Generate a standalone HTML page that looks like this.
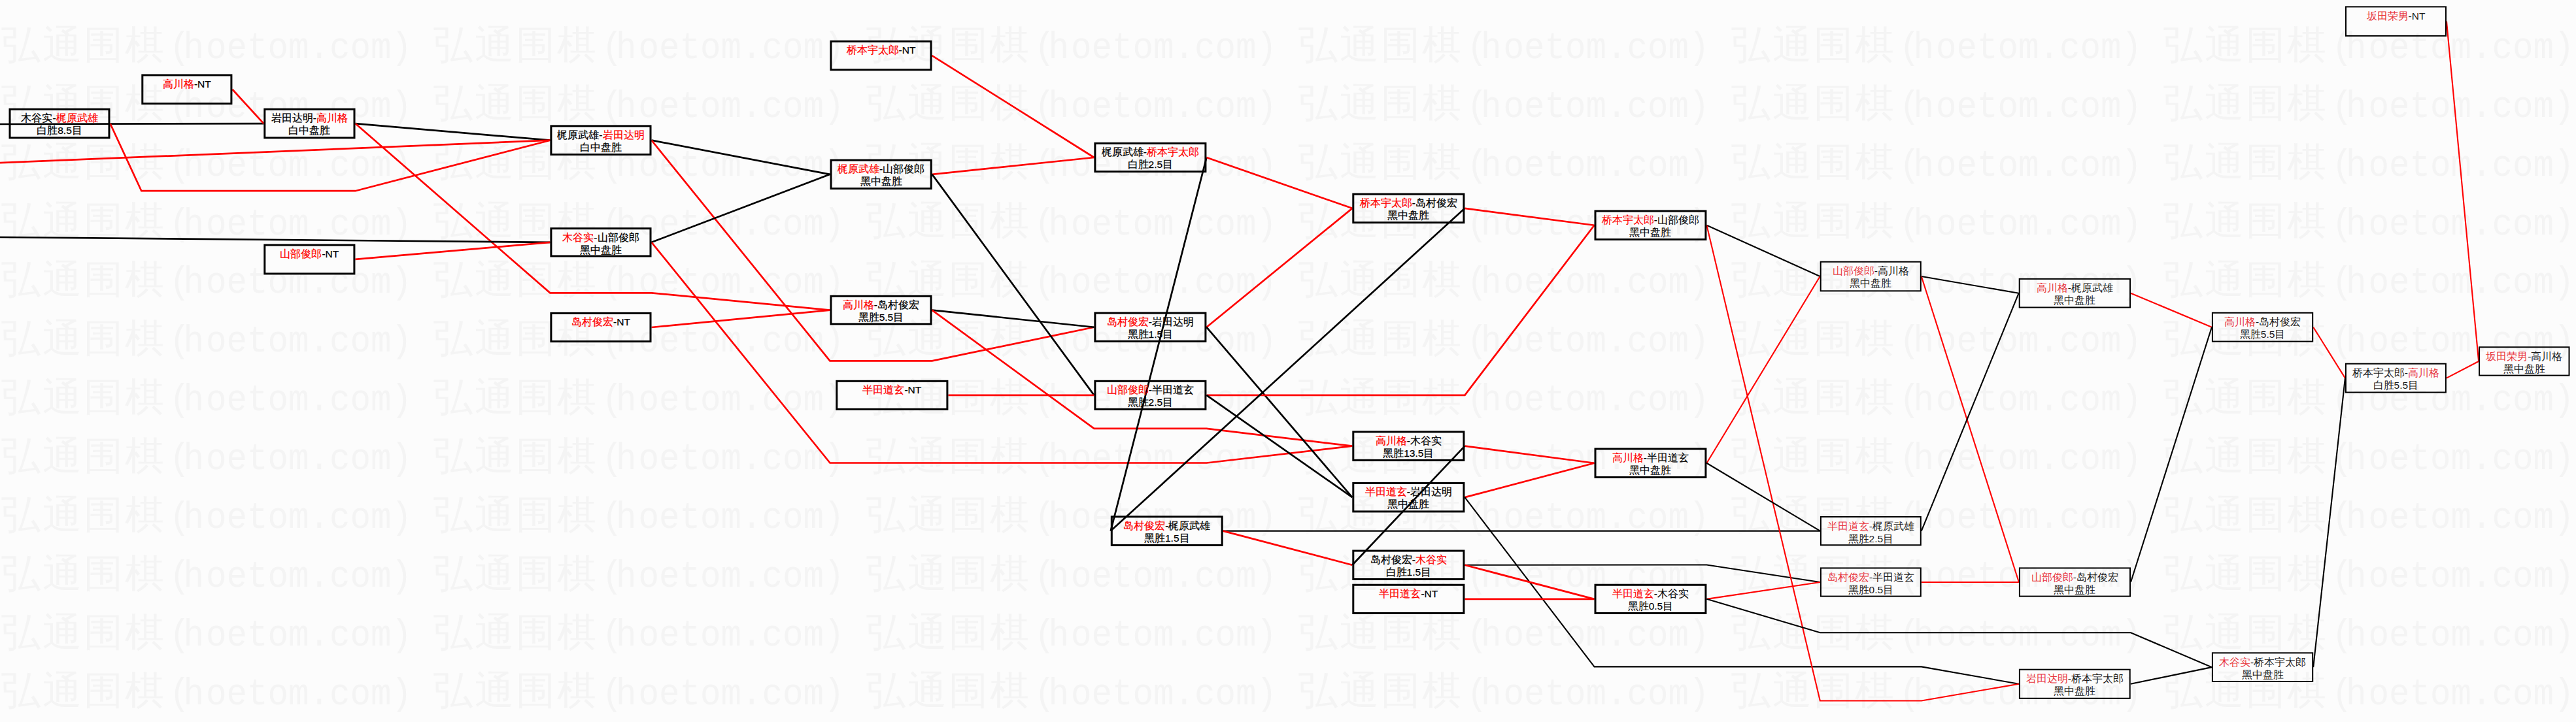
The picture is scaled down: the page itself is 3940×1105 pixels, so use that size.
<!DOCTYPE html><html><head><meta charset="utf-8"><style>html,body{margin:0;padding:0;background:#fcfcfc;overflow:hidden}svg{display:block}</style></head><body>
<svg width="3940" height="1105" viewBox="0 0 3940 1105">
<rect width="3940" height="1105" fill="#fcfcfc"/>
<defs><g id="wm">
<text x="31.5 94.5 157.5 220.5" y="0" font-size="60" text-anchor="middle" font-family="Liberation Sans, sans-serif">弘通围棋</text>
<text transform="scale(0.9210526315789475,1)" x="298.3 321.64 359.1 393.3 427.5 461.7 495.9 530.1 564.3 598.5 632.7 666.9" y="0.3" font-size="57" text-anchor="middle" font-family="Liberation Mono, monospace">(hoetom.com)</text>
</g></defs>
<g fill="#f4f4f4">
<use href="#wm" x="0" y="88.5"/>
<use href="#wm" x="661.5" y="88.5"/>
<use href="#wm" x="1323" y="88.5"/>
<use href="#wm" x="1984.5" y="88.5"/>
<use href="#wm" x="2646" y="88.5"/>
<use href="#wm" x="3307.5" y="88.5"/>
<use href="#wm" x="0" y="178.4"/>
<use href="#wm" x="661.5" y="178.4"/>
<use href="#wm" x="1323" y="178.4"/>
<use href="#wm" x="1984.5" y="178.4"/>
<use href="#wm" x="2646" y="178.4"/>
<use href="#wm" x="3307.5" y="178.4"/>
<use href="#wm" x="0" y="268.3"/>
<use href="#wm" x="661.5" y="268.3"/>
<use href="#wm" x="1323" y="268.3"/>
<use href="#wm" x="1984.5" y="268.3"/>
<use href="#wm" x="2646" y="268.3"/>
<use href="#wm" x="3307.5" y="268.3"/>
<use href="#wm" x="0" y="358.2"/>
<use href="#wm" x="661.5" y="358.2"/>
<use href="#wm" x="1323" y="358.2"/>
<use href="#wm" x="1984.5" y="358.2"/>
<use href="#wm" x="2646" y="358.2"/>
<use href="#wm" x="3307.5" y="358.2"/>
<use href="#wm" x="0" y="448.1"/>
<use href="#wm" x="661.5" y="448.1"/>
<use href="#wm" x="1323" y="448.1"/>
<use href="#wm" x="1984.5" y="448.1"/>
<use href="#wm" x="2646" y="448.1"/>
<use href="#wm" x="3307.5" y="448.1"/>
<use href="#wm" x="0" y="538"/>
<use href="#wm" x="661.5" y="538"/>
<use href="#wm" x="1323" y="538"/>
<use href="#wm" x="1984.5" y="538"/>
<use href="#wm" x="2646" y="538"/>
<use href="#wm" x="3307.5" y="538"/>
<use href="#wm" x="0" y="627.9"/>
<use href="#wm" x="661.5" y="627.9"/>
<use href="#wm" x="1323" y="627.9"/>
<use href="#wm" x="1984.5" y="627.9"/>
<use href="#wm" x="2646" y="627.9"/>
<use href="#wm" x="3307.5" y="627.9"/>
<use href="#wm" x="0" y="717.8"/>
<use href="#wm" x="661.5" y="717.8"/>
<use href="#wm" x="1323" y="717.8"/>
<use href="#wm" x="1984.5" y="717.8"/>
<use href="#wm" x="2646" y="717.8"/>
<use href="#wm" x="3307.5" y="717.8"/>
<use href="#wm" x="0" y="807.7"/>
<use href="#wm" x="661.5" y="807.7"/>
<use href="#wm" x="1323" y="807.7"/>
<use href="#wm" x="1984.5" y="807.7"/>
<use href="#wm" x="2646" y="807.7"/>
<use href="#wm" x="3307.5" y="807.7"/>
<use href="#wm" x="0" y="897.6"/>
<use href="#wm" x="661.5" y="897.6"/>
<use href="#wm" x="1323" y="897.6"/>
<use href="#wm" x="1984.5" y="897.6"/>
<use href="#wm" x="2646" y="897.6"/>
<use href="#wm" x="3307.5" y="897.6"/>
<use href="#wm" x="0" y="987.5"/>
<use href="#wm" x="661.5" y="987.5"/>
<use href="#wm" x="1323" y="987.5"/>
<use href="#wm" x="1984.5" y="987.5"/>
<use href="#wm" x="2646" y="987.5"/>
<use href="#wm" x="3307.5" y="987.5"/>
<use href="#wm" x="0" y="1077.4"/>
<use href="#wm" x="661.5" y="1077.4"/>
<use href="#wm" x="1323" y="1077.4"/>
<use href="#wm" x="1984.5" y="1077.4"/>
<use href="#wm" x="2646" y="1077.4"/>
<use href="#wm" x="3307.5" y="1077.4"/>
</g>
<polyline points="0,190 403.3,189.05" fill="none" stroke="#000000" stroke-width="2.7" stroke-linejoin="miter"/>
<polyline points="355.4,136.75 403.3,189.05" fill="none" stroke="#ff0000" stroke-width="2.7" stroke-linejoin="miter"/>
<polyline points="543.5,189.05 841.4,214.7" fill="none" stroke="#000000" stroke-width="2.7" stroke-linejoin="miter"/>
<polyline points="168.5,189.05 216.3,292.2 543.5,292.2 841.4,214.7" fill="none" stroke="#ff0000" stroke-width="2.7" stroke-linejoin="miter"/>
<polyline points="0,249.2 841.4,214.7" fill="none" stroke="#ff0000" stroke-width="2.7" stroke-linejoin="miter"/>
<polyline points="543.5,189.05 841.4,448.3 996.5,448.3 1269.4,474.6" fill="none" stroke="#ff0000" stroke-width="2.7" stroke-linejoin="miter"/>
<polyline points="0,363 841.4,370.85" fill="none" stroke="#000000" stroke-width="2.7" stroke-linejoin="miter"/>
<polyline points="543.4,396.95 841.4,370.85" fill="none" stroke="#ff0000" stroke-width="2.7" stroke-linejoin="miter"/>
<polyline points="996.5,214.7 1269.5,266.85" fill="none" stroke="#000000" stroke-width="2.7" stroke-linejoin="miter"/>
<polyline points="996.5,214.7 1269.4,552.3 1425.5,552.3 1673.4,500.75" fill="none" stroke="#ff0000" stroke-width="2.7" stroke-linejoin="miter"/>
<polyline points="996.5,370.85 1269.5,266.85" fill="none" stroke="#000000" stroke-width="2.7" stroke-linejoin="miter"/>
<polyline points="996.5,370.85 1269.5,708.5 1845.4,708.5 2068.3,682.65" fill="none" stroke="#ff0000" stroke-width="2.7" stroke-linejoin="miter"/>
<polyline points="996.5,501 1269.4,474.6" fill="none" stroke="#ff0000" stroke-width="2.7" stroke-linejoin="miter"/>
<polyline points="1425.5,85.05 1673.4,241" fill="none" stroke="#ff0000" stroke-width="2.7" stroke-linejoin="miter"/>
<polyline points="1425.7,266.85 1673.4,241" fill="none" stroke="#ff0000" stroke-width="2.7" stroke-linejoin="miter"/>
<polyline points="1425.7,266.85 1673.4,604.85" fill="none" stroke="#000000" stroke-width="2.7" stroke-linejoin="miter"/>
<polyline points="1425.5,474.6 1673.4,500.75" fill="none" stroke="#000000" stroke-width="2.7" stroke-linejoin="miter"/>
<polyline points="1425.5,474.6 1673.4,655.8 1845.4,655.8 2068.3,682.65" fill="none" stroke="#ff0000" stroke-width="2.7" stroke-linejoin="miter"/>
<polyline points="1450.4,604.85 1673.4,604.85" fill="none" stroke="#ff0000" stroke-width="2.7" stroke-linejoin="miter"/>
<polyline points="1845.4,241 1698.8,812.6" fill="none" stroke="#000000" stroke-width="2.7" stroke-linejoin="miter"/>
<polyline points="1845.4,241 2068.3,318.85" fill="none" stroke="#ff0000" stroke-width="2.7" stroke-linejoin="miter"/>
<polyline points="1845.4,500.75 2068.3,318.85" fill="none" stroke="#ff0000" stroke-width="2.7" stroke-linejoin="miter"/>
<polyline points="1845.4,500.75 2068.3,761.15" fill="none" stroke="#000000" stroke-width="2.7" stroke-linejoin="miter"/>
<polyline points="1845.4,604.85 2240.4,604.8 2438.5,344.75" fill="none" stroke="#ff0000" stroke-width="2.7" stroke-linejoin="miter"/>
<polyline points="1845.4,604.85 2068.3,761.15" fill="none" stroke="#000000" stroke-width="2.7" stroke-linejoin="miter"/>
<polyline points="2240.4,318.85 1698.8,812.6" fill="none" stroke="#000000" stroke-width="2.7" stroke-linejoin="miter"/>
<polyline points="2240.4,318.85 2438.5,344.75" fill="none" stroke="#ff0000" stroke-width="2.7" stroke-linejoin="miter"/>
<polyline points="1870.7,812.6 2783.9,812.6" fill="none" stroke="#000000" stroke-width="2.1" stroke-linejoin="miter"/>
<polyline points="1870.7,812.6 2068.3,864.75" fill="none" stroke="#ff0000" stroke-width="2.7" stroke-linejoin="miter"/>
<polyline points="2240.4,682.65 2438.5,708.75" fill="none" stroke="#ff0000" stroke-width="2.7" stroke-linejoin="miter"/>
<polyline points="2240.4,682.65 2068.3,864.75" fill="none" stroke="#000000" stroke-width="2.7" stroke-linejoin="miter"/>
<polyline points="2240.4,761.15 2438.5,708.75" fill="none" stroke="#ff0000" stroke-width="2.7" stroke-linejoin="miter"/>
<polyline points="2240.4,761.15 2438.5,1020.4 2938.8,1020.4 3087.9,1046.75" fill="none" stroke="#000000" stroke-width="2.1" stroke-linejoin="miter"/>
<polyline points="2240.4,864.75 2610.4,864.5 2783.9,891" fill="none" stroke="#000000" stroke-width="2.1" stroke-linejoin="miter"/>
<polyline points="2240.4,864.75 2438.5,916.85" fill="none" stroke="#ff0000" stroke-width="2.7" stroke-linejoin="miter"/>
<polyline points="2240.4,916.85 2438.5,916.85" fill="none" stroke="#ff0000" stroke-width="2.7" stroke-linejoin="miter"/>
<polyline points="2610.4,344.75 2783.7,423" fill="none" stroke="#000000" stroke-width="2.1" stroke-linejoin="miter"/>
<polyline points="2610.4,344.75 2783.8,1072.5 2938.8,1072.5 3087.9,1046.75" fill="none" stroke="#ff0000" stroke-width="2.1" stroke-linejoin="miter"/>
<polyline points="2610.4,708.75 2783.7,423" fill="none" stroke="#ff0000" stroke-width="2.1" stroke-linejoin="miter"/>
<polyline points="2610.4,708.75 2783.9,812.6" fill="none" stroke="#000000" stroke-width="2.1" stroke-linejoin="miter"/>
<polyline points="2610.4,916.85 2783.9,891" fill="none" stroke="#ff0000" stroke-width="2.1" stroke-linejoin="miter"/>
<polyline points="2610.4,916.85 2783.8,968.3 3259,968.3 3382.9,1021.15" fill="none" stroke="#000000" stroke-width="2.1" stroke-linejoin="miter"/>
<polyline points="2938.8,423 3087.7,448.7" fill="none" stroke="#000000" stroke-width="2.1" stroke-linejoin="miter"/>
<polyline points="2938.8,423 3087.9,891" fill="none" stroke="#ff0000" stroke-width="2.1" stroke-linejoin="miter"/>
<polyline points="2938.8,812.6 3087.7,448.7" fill="none" stroke="#000000" stroke-width="2.1" stroke-linejoin="miter"/>
<polyline points="2938.8,891 3087.9,891" fill="none" stroke="#ff0000" stroke-width="2.1" stroke-linejoin="miter"/>
<polyline points="3259,448.7 3382.9,500.7" fill="none" stroke="#ff0000" stroke-width="2.1" stroke-linejoin="miter"/>
<polyline points="3259,891 3382.9,500.7" fill="none" stroke="#000000" stroke-width="2.1" stroke-linejoin="miter"/>
<polyline points="3258.7,1046.75 3382.9,1021.15" fill="none" stroke="#000000" stroke-width="2.1" stroke-linejoin="miter"/>
<polyline points="3538.2,500.7 3586.9,578.6" fill="none" stroke="#ff0000" stroke-width="2.1" stroke-linejoin="miter"/>
<polyline points="3538.2,1021.15 3586.9,578.6" fill="none" stroke="#000000" stroke-width="2.1" stroke-linejoin="miter"/>
<polyline points="3741.9,578.6 3791.1,552.95" fill="none" stroke="#ff0000" stroke-width="2.1" stroke-linejoin="miter"/>
<polyline points="3742,32.65 3791.1,552.95" fill="none" stroke="#ff0000" stroke-width="2.1" stroke-linejoin="miter"/>
<rect x="15" y="167.2" width="152" height="43.7" fill="none" stroke="#000" stroke-width="3"/>
<text x="91" y="186.2" text-anchor="middle" font-size="15.5" font-weight="normal" font-family="Liberation Sans, sans-serif" fill="#000" stroke="#000" stroke-width="0.25">木谷实-<tspan fill="#ff0000" stroke="#ff0000">梶原武雄</tspan></text>
<text x="91" y="205.2" text-anchor="middle" font-size="15.5" font-weight="normal" font-family="Liberation Sans, sans-serif" fill="#000" stroke="#000" stroke-width="0.25">白胜8.5目</text>
<rect x="217.8" y="115" width="136.1" height="43.5" fill="none" stroke="#000" stroke-width="3"/>
<text x="285.85" y="134" text-anchor="middle" font-size="15.5" font-weight="normal" font-family="Liberation Sans, sans-serif" fill="#000" stroke="#000" stroke-width="0.25"><tspan fill="#ff0000" stroke="#ff0000">高川格</tspan><tspan>-NT</tspan></text>
<rect x="404.8" y="167.2" width="137.2" height="43.7" fill="none" stroke="#000" stroke-width="3"/>
<text x="473.4" y="186.2" text-anchor="middle" font-size="15.5" font-weight="normal" font-family="Liberation Sans, sans-serif" fill="#000" stroke="#000" stroke-width="0.25">岩田达明-<tspan fill="#ff0000" stroke="#ff0000">高川格</tspan></text>
<text x="473.4" y="205.2" text-anchor="middle" font-size="15.5" font-weight="normal" font-family="Liberation Sans, sans-serif" fill="#000" stroke="#000" stroke-width="0.25">白中盘胜</text>
<rect x="842.9" y="192.9" width="152.1" height="43.6" fill="none" stroke="#000" stroke-width="3"/>
<text x="918.95" y="211.9" text-anchor="middle" font-size="15.5" font-weight="normal" font-family="Liberation Sans, sans-serif" fill="#000" stroke="#000" stroke-width="0.25">梶原武雄-<tspan fill="#ff0000" stroke="#ff0000">岩田达明</tspan></text>
<text x="918.95" y="230.9" text-anchor="middle" font-size="15.5" font-weight="normal" font-family="Liberation Sans, sans-serif" fill="#000" stroke="#000" stroke-width="0.25">白中盘胜</text>
<rect x="404.8" y="375" width="137.1" height="43.9" fill="none" stroke="#000" stroke-width="3"/>
<text x="473.35" y="394" text-anchor="middle" font-size="15.5" font-weight="normal" font-family="Liberation Sans, sans-serif" fill="#000" stroke="#000" stroke-width="0.25"><tspan fill="#ff0000" stroke="#ff0000">山部俊郎</tspan><tspan>-NT</tspan></text>
<rect x="842.9" y="349.7" width="152.1" height="42.3" fill="none" stroke="#000" stroke-width="3"/>
<text x="918.95" y="368.7" text-anchor="middle" font-size="15.5" font-weight="normal" font-family="Liberation Sans, sans-serif" fill="#000" stroke="#000" stroke-width="0.25"><tspan fill="#ff0000" stroke="#ff0000">木谷实</tspan><tspan>-山部俊郎</tspan></text>
<text x="918.95" y="387.7" text-anchor="middle" font-size="15.5" font-weight="normal" font-family="Liberation Sans, sans-serif" fill="#000" stroke="#000" stroke-width="0.25">黑中盘胜</text>
<rect x="842.9" y="479.4" width="152.1" height="43.2" fill="none" stroke="#000" stroke-width="3"/>
<text x="918.95" y="498.4" text-anchor="middle" font-size="15.5" font-weight="normal" font-family="Liberation Sans, sans-serif" fill="#000" stroke="#000" stroke-width="0.25"><tspan fill="#ff0000" stroke="#ff0000">岛村俊宏</tspan><tspan>-NT</tspan></text>
<rect x="1270.9" y="63.3" width="153.1" height="43.5" fill="none" stroke="#000" stroke-width="3"/>
<text x="1347.45" y="82.3" text-anchor="middle" font-size="15.5" font-weight="normal" font-family="Liberation Sans, sans-serif" fill="#000" stroke="#000" stroke-width="0.25"><tspan fill="#ff0000" stroke="#ff0000">桥本宇太郎</tspan><tspan>-NT</tspan></text>
<rect x="1271" y="245.1" width="153.2" height="43.5" fill="none" stroke="#000" stroke-width="3"/>
<text x="1347.6" y="264.1" text-anchor="middle" font-size="15.5" font-weight="normal" font-family="Liberation Sans, sans-serif" fill="#000" stroke="#000" stroke-width="0.25"><tspan fill="#ff0000" stroke="#ff0000">梶原武雄</tspan><tspan>-山部俊郎</tspan></text>
<text x="1347.6" y="283.1" text-anchor="middle" font-size="15.5" font-weight="normal" font-family="Liberation Sans, sans-serif" fill="#000" stroke="#000" stroke-width="0.25">黑中盘胜</text>
<rect x="1674.9" y="219.4" width="169" height="43.2" fill="none" stroke="#000" stroke-width="3"/>
<text x="1759.4" y="238.4" text-anchor="middle" font-size="15.5" font-weight="normal" font-family="Liberation Sans, sans-serif" fill="#000" stroke="#000" stroke-width="0.25">梶原武雄-<tspan fill="#ff0000" stroke="#ff0000">桥本宇太郎</tspan></text>
<text x="1759.4" y="257.4" text-anchor="middle" font-size="15.5" font-weight="normal" font-family="Liberation Sans, sans-serif" fill="#000" stroke="#000" stroke-width="0.25">白胜2.5目</text>
<rect x="1270.9" y="453.3" width="153.1" height="42.6" fill="none" stroke="#000" stroke-width="3"/>
<text x="1347.45" y="472.3" text-anchor="middle" font-size="15.5" font-weight="normal" font-family="Liberation Sans, sans-serif" fill="#000" stroke="#000" stroke-width="0.25"><tspan fill="#ff0000" stroke="#ff0000">高川格</tspan><tspan>-岛村俊宏</tspan></text>
<text x="1347.45" y="491.3" text-anchor="middle" font-size="15.5" font-weight="normal" font-family="Liberation Sans, sans-serif" fill="#000" stroke="#000" stroke-width="0.25">黑胜5.5目</text>
<rect x="1674.9" y="479.1" width="169" height="43.3" fill="none" stroke="#000" stroke-width="3"/>
<text x="1759.4" y="498.1" text-anchor="middle" font-size="15.5" font-weight="normal" font-family="Liberation Sans, sans-serif" fill="#000" stroke="#000" stroke-width="0.25"><tspan fill="#ff0000" stroke="#ff0000">岛村俊宏</tspan><tspan>-岩田达明</tspan></text>
<text x="1759.4" y="517.1" text-anchor="middle" font-size="15.5" font-weight="normal" font-family="Liberation Sans, sans-serif" fill="#000" stroke="#000" stroke-width="0.25">黑胜1.5目</text>
<rect x="1279.8" y="583.3" width="169.1" height="43.1" fill="none" stroke="#000" stroke-width="3"/>
<text x="1364.35" y="602.3" text-anchor="middle" font-size="15.5" font-weight="normal" font-family="Liberation Sans, sans-serif" fill="#000" stroke="#000" stroke-width="0.25"><tspan fill="#ff0000" stroke="#ff0000">半田道玄</tspan><tspan>-NT</tspan></text>
<rect x="1674.9" y="583.3" width="169" height="43.1" fill="none" stroke="#000" stroke-width="3"/>
<text x="1759.4" y="602.3" text-anchor="middle" font-size="15.5" font-weight="normal" font-family="Liberation Sans, sans-serif" fill="#000" stroke="#000" stroke-width="0.25"><tspan fill="#ff0000" stroke="#ff0000">山部俊郎</tspan><tspan>-半田道玄</tspan></text>
<text x="1759.4" y="621.3" text-anchor="middle" font-size="15.5" font-weight="normal" font-family="Liberation Sans, sans-serif" fill="#000" stroke="#000" stroke-width="0.25">黑胜2.5目</text>
<rect x="1700.3" y="790.8" width="168.9" height="43.6" fill="none" stroke="#000" stroke-width="3"/>
<text x="1784.75" y="809.8" text-anchor="middle" font-size="15.5" font-weight="normal" font-family="Liberation Sans, sans-serif" fill="#000" stroke="#000" stroke-width="0.25"><tspan fill="#ff0000" stroke="#ff0000">岛村俊宏</tspan><tspan>-梶原武雄</tspan></text>
<text x="1784.75" y="828.8" text-anchor="middle" font-size="15.5" font-weight="normal" font-family="Liberation Sans, sans-serif" fill="#000" stroke="#000" stroke-width="0.25">黑胜1.5目</text>
<rect x="2069.8" y="297.1" width="169.1" height="43.5" fill="none" stroke="#000" stroke-width="3"/>
<text x="2154.35" y="316.1" text-anchor="middle" font-size="15.5" font-weight="normal" font-family="Liberation Sans, sans-serif" fill="#000" stroke="#000" stroke-width="0.25"><tspan fill="#ff0000" stroke="#ff0000">桥本宇太郎</tspan><tspan>-岛村俊宏</tspan></text>
<text x="2154.35" y="335.1" text-anchor="middle" font-size="15.5" font-weight="normal" font-family="Liberation Sans, sans-serif" fill="#000" stroke="#000" stroke-width="0.25">黑中盘胜</text>
<rect x="2440" y="323" width="168.9" height="43.5" fill="none" stroke="#000" stroke-width="3"/>
<text x="2524.45" y="342" text-anchor="middle" font-size="15.5" font-weight="normal" font-family="Liberation Sans, sans-serif" fill="#000" stroke="#000" stroke-width="0.12"><tspan fill="#ff0000" stroke="#ff0000">桥本宇太郎</tspan><tspan>-山部俊郎</tspan></text>
<text x="2524.45" y="361" text-anchor="middle" font-size="15.5" font-weight="normal" font-family="Liberation Sans, sans-serif" fill="#000" stroke="#000" stroke-width="0.12">黑中盘胜</text>
<rect x="2069.8" y="660.9" width="169.1" height="43.5" fill="none" stroke="#000" stroke-width="3"/>
<text x="2154.35" y="679.9" text-anchor="middle" font-size="15.5" font-weight="normal" font-family="Liberation Sans, sans-serif" fill="#000" stroke="#000" stroke-width="0.25"><tspan fill="#ff0000" stroke="#ff0000">高川格</tspan><tspan>-木谷实</tspan></text>
<text x="2154.35" y="698.9" text-anchor="middle" font-size="15.5" font-weight="normal" font-family="Liberation Sans, sans-serif" fill="#000" stroke="#000" stroke-width="0.25">黑胜13.5目</text>
<rect x="2069.8" y="739.4" width="169.1" height="43.5" fill="none" stroke="#000" stroke-width="3"/>
<text x="2154.35" y="758.4" text-anchor="middle" font-size="15.5" font-weight="normal" font-family="Liberation Sans, sans-serif" fill="#000" stroke="#000" stroke-width="0.25"><tspan fill="#ff0000" stroke="#ff0000">半田道玄</tspan><tspan>-岩田达明</tspan></text>
<text x="2154.35" y="777.4" text-anchor="middle" font-size="15.5" font-weight="normal" font-family="Liberation Sans, sans-serif" fill="#000" stroke="#000" stroke-width="0.25">黑中盘胜</text>
<rect x="2440" y="687" width="168.9" height="43.5" fill="none" stroke="#000" stroke-width="3"/>
<text x="2524.45" y="706" text-anchor="middle" font-size="15.5" font-weight="normal" font-family="Liberation Sans, sans-serif" fill="#000" stroke="#000" stroke-width="0.12"><tspan fill="#ff0000" stroke="#ff0000">高川格</tspan><tspan>-半田道玄</tspan></text>
<text x="2524.45" y="725" text-anchor="middle" font-size="15.5" font-weight="normal" font-family="Liberation Sans, sans-serif" fill="#000" stroke="#000" stroke-width="0.12">黑中盘胜</text>
<rect x="2069.8" y="843" width="169.1" height="43.5" fill="none" stroke="#000" stroke-width="3"/>
<text x="2154.35" y="862" text-anchor="middle" font-size="15.5" font-weight="normal" font-family="Liberation Sans, sans-serif" fill="#000" stroke="#000" stroke-width="0.25">岛村俊宏-<tspan fill="#ff0000" stroke="#ff0000">木谷实</tspan></text>
<text x="2154.35" y="881" text-anchor="middle" font-size="15.5" font-weight="normal" font-family="Liberation Sans, sans-serif" fill="#000" stroke="#000" stroke-width="0.25">白胜1.5目</text>
<rect x="2069.8" y="895.2" width="169.1" height="43.3" fill="none" stroke="#000" stroke-width="3"/>
<text x="2154.35" y="914.2" text-anchor="middle" font-size="15.5" font-weight="normal" font-family="Liberation Sans, sans-serif" fill="#000" stroke="#000" stroke-width="0.25"><tspan fill="#ff0000" stroke="#ff0000">半田道玄</tspan><tspan>-NT</tspan></text>
<rect x="2440" y="895.2" width="168.9" height="43.3" fill="none" stroke="#000" stroke-width="3"/>
<text x="2524.45" y="914.2" text-anchor="middle" font-size="15.5" font-weight="normal" font-family="Liberation Sans, sans-serif" fill="#000" stroke="#000" stroke-width="0.12"><tspan fill="#ff0000" stroke="#ff0000">半田道玄</tspan><tspan>-木谷实</tspan></text>
<text x="2524.45" y="933.2" text-anchor="middle" font-size="15.5" font-weight="normal" font-family="Liberation Sans, sans-serif" fill="#000" stroke="#000" stroke-width="0.12">黑胜0.5目</text>
<rect x="2784.7" y="400.7" width="153.1" height="44.6" fill="none" stroke="#000" stroke-width="2"/>
<text x="2861.25" y="420.2" text-anchor="middle" font-size="15.5" font-weight="normal" font-family="Liberation Sans, sans-serif" fill="#1a1a1a"><tspan fill="#e8353d">山部俊郎</tspan><tspan>-高川格</tspan></text>
<text x="2861.25" y="439.2" text-anchor="middle" font-size="15.5" font-weight="normal" font-family="Liberation Sans, sans-serif" fill="#1a1a1a">黑中盘胜</text>
<rect x="2784.9" y="791" width="152.9" height="43.2" fill="none" stroke="#000" stroke-width="2"/>
<text x="2861.35" y="810.5" text-anchor="middle" font-size="15.5" font-weight="normal" font-family="Liberation Sans, sans-serif" fill="#1a1a1a"><tspan fill="#e8353d">半田道玄</tspan><tspan>-梶原武雄</tspan></text>
<text x="2861.35" y="829.5" text-anchor="middle" font-size="15.5" font-weight="normal" font-family="Liberation Sans, sans-serif" fill="#1a1a1a">黑胜2.5目</text>
<rect x="2784.9" y="869.4" width="152.9" height="43.2" fill="none" stroke="#000" stroke-width="2"/>
<text x="2861.35" y="888.9" text-anchor="middle" font-size="15.5" font-weight="normal" font-family="Liberation Sans, sans-serif" fill="#1a1a1a"><tspan fill="#e8353d">岛村俊宏</tspan><tspan>-半田道玄</tspan></text>
<text x="2861.35" y="907.9" text-anchor="middle" font-size="15.5" font-weight="normal" font-family="Liberation Sans, sans-serif" fill="#1a1a1a">黑胜0.5目</text>
<rect x="3088.7" y="426.9" width="169.3" height="43.6" fill="none" stroke="#000" stroke-width="2"/>
<text x="3173.35" y="446.4" text-anchor="middle" font-size="15.5" font-weight="normal" font-family="Liberation Sans, sans-serif" fill="#1a1a1a"><tspan fill="#e8353d">高川格</tspan><tspan>-梶原武雄</tspan></text>
<text x="3173.35" y="465.4" text-anchor="middle" font-size="15.5" font-weight="normal" font-family="Liberation Sans, sans-serif" fill="#1a1a1a">黑中盘胜</text>
<rect x="3088.9" y="869.4" width="169.1" height="43.2" fill="none" stroke="#000" stroke-width="2"/>
<text x="3173.45" y="888.9" text-anchor="middle" font-size="15.5" font-weight="normal" font-family="Liberation Sans, sans-serif" fill="#1a1a1a"><tspan fill="#e8353d">山部俊郎</tspan><tspan>-岛村俊宏</tspan></text>
<text x="3173.45" y="907.9" text-anchor="middle" font-size="15.5" font-weight="normal" font-family="Liberation Sans, sans-serif" fill="#1a1a1a">黑中盘胜</text>
<rect x="3088.9" y="1024.7" width="168.8" height="44.1" fill="none" stroke="#000" stroke-width="2"/>
<text x="3173.3" y="1044.2" text-anchor="middle" font-size="15.5" font-weight="normal" font-family="Liberation Sans, sans-serif" fill="#1a1a1a"><tspan fill="#e8353d">岩田达明</tspan><tspan>-桥本宇太郎</tspan></text>
<text x="3173.3" y="1063.2" text-anchor="middle" font-size="15.5" font-weight="normal" font-family="Liberation Sans, sans-serif" fill="#1a1a1a">黑中盘胜</text>
<rect x="3383.9" y="478.8" width="153.3" height="43.8" fill="none" stroke="#000" stroke-width="2"/>
<text x="3460.55" y="498.3" text-anchor="middle" font-size="15.5" font-weight="normal" font-family="Liberation Sans, sans-serif" fill="#1a1a1a"><tspan fill="#e8353d">高川格</tspan><tspan>-岛村俊宏</tspan></text>
<text x="3460.55" y="517.3" text-anchor="middle" font-size="15.5" font-weight="normal" font-family="Liberation Sans, sans-serif" fill="#1a1a1a">黑胜5.5目</text>
<rect x="3383.9" y="999.3" width="153.3" height="43.7" fill="none" stroke="#000" stroke-width="2"/>
<text x="3460.55" y="1018.8" text-anchor="middle" font-size="15.5" font-weight="normal" font-family="Liberation Sans, sans-serif" fill="#1a1a1a"><tspan fill="#e8353d">木谷实</tspan><tspan>-桥本宇太郎</tspan></text>
<text x="3460.55" y="1037.8" text-anchor="middle" font-size="15.5" font-weight="normal" font-family="Liberation Sans, sans-serif" fill="#1a1a1a">黑中盘胜</text>
<rect x="3587.9" y="556.7" width="153" height="43.8" fill="none" stroke="#000" stroke-width="2"/>
<text x="3664.4" y="576.2" text-anchor="middle" font-size="15.5" font-weight="normal" font-family="Liberation Sans, sans-serif" fill="#1a1a1a">桥本宇太郎-<tspan fill="#e8353d">高川格</tspan></text>
<text x="3664.4" y="595.2" text-anchor="middle" font-size="15.5" font-weight="normal" font-family="Liberation Sans, sans-serif" fill="#1a1a1a">白胜5.5目</text>
<rect x="3588" y="10.4" width="153" height="44.5" fill="none" stroke="#000" stroke-width="2"/>
<text x="3664.5" y="29.9" text-anchor="middle" font-size="15.5" font-weight="normal" font-family="Liberation Sans, sans-serif" fill="#1a1a1a"><tspan fill="#e8353d">坂田荣男</tspan><tspan>-NT</tspan></text>
<rect x="3792.1" y="531.3" width="137.4" height="43.3" fill="none" stroke="#000" stroke-width="2"/>
<text x="3860.8" y="550.8" text-anchor="middle" font-size="15.5" font-weight="normal" font-family="Liberation Sans, sans-serif" fill="#1a1a1a"><tspan fill="#e8353d">坂田荣男</tspan><tspan>-高川格</tspan></text>
<text x="3860.8" y="569.8" text-anchor="middle" font-size="15.5" font-weight="normal" font-family="Liberation Sans, sans-serif" fill="#1a1a1a">黑中盘胜</text>
</svg></body></html>
